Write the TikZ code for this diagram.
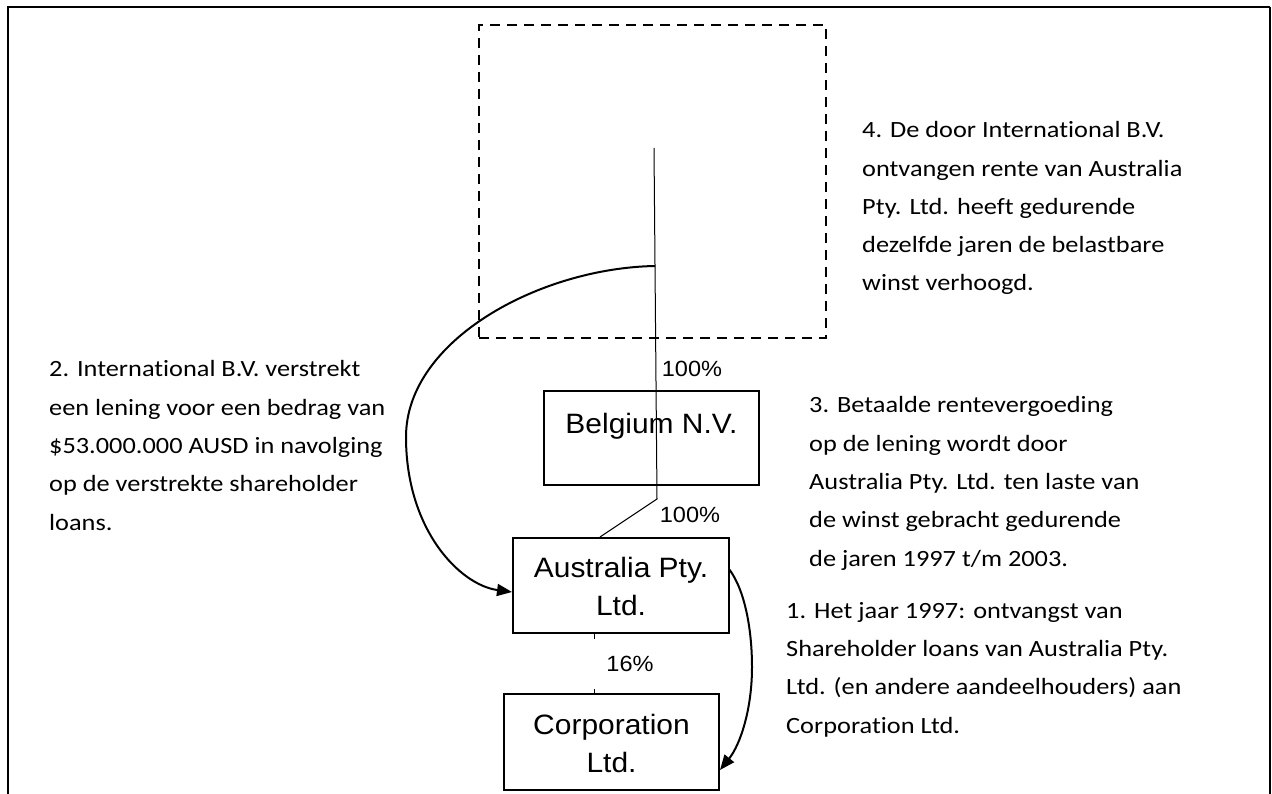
\documentclass[tikz,border=0pt]{standalone}
\usepackage{fontspec}
\setmainfont{Carlito}
\newfontfamily\notefont[FakeStretch=1.13,Ligatures=NoCommon]{Carlito}
\newfontfamily\arialfont[FakeStretch=1.07]{Liberation Sans}
\usetikzlibrary{arrows.meta}
\tikzset{
  entity/.style={draw, line width=2pt, inner sep=0pt},
  boxtext/.style={font=\arialfont\fontsize{28}{38}\selectfont, align=center, inner sep=0pt, anchor=base},
  pct/.style={font=\arialfont\fontsize{22}{26}\selectfont, inner sep=0pt},
  note/.style={font=\notefont\fontsize{23.3}{38.3}\selectfont, align=left, inner sep=0pt, anchor=base west},
  link/.style={line width=1pt},
  flow/.style={line width=2pt, -{Triangle[length=15pt,width=12pt]}},
  hidden/.style={draw, dashed, line width=2pt, dash pattern=on 10pt off 7pt},
}
\begin{document}
\begin{tikzpicture}[x=1pt,y=-1pt]
\useasboundingbox (0,0) rectangle (1272,794);
% outer frame (open at bottom)
\draw[line width=2.4pt] (8,800) -- (8,7) -- (1270,7);
\draw[line width=1.6pt] (1270,7) -- (1270,800);
% dashed (empty) box
\node[hidden, minimum width=347pt, minimum height=313pt, inner sep=0pt] (intl) at (652.5,181.5) {};
% entity boxes
\node[entity, minimum width=215pt, minimum height=94pt] (bel) at (651.5,438) {};
\node[entity, minimum width=216pt, minimum height=95pt] (aus) at (621,585.5) {};
\node[entity, minimum width=215pt, minimum height=96pt] (corp) at (611.5,742) {};
% ownership connectors
\coordinate (top) at (654,148);
\coordinate (bend) at (657,499);
\coordinate (ausin) at (600,0);
\coordinate (tick) at (594,0);
\draw[link] (top) -- (bend) -- (aus.north -| ausin);
\draw[link] (aus.south -| tick) -- (corp.north -| tick);
% texts in boxes (base anchor = last line)
\node[boxtext] (beltxt) at (651.5,433) {Belgium N.V.};
\node[boxtext] (austxt) at (621,615) {Australia Pty.\\Ltd.};
% percentages
\node[pct] (p1) at (692,369) {100\%};
\node[pct] (p2) at (690,515) {100\%};
\node[pct, fill=white, minimum width=76pt, minimum height=50pt] (p3) at (630,664) {16\%};
\node[boxtext] (corptxt) at (611.5,772) {Corporation\\Ltd.};
% flows
\coordinate (loan) at (655,266);
\draw[flow] (loan) .. controls (540,268) and (406,340) .. (406,437)
  .. controls (406,530) and (460,585) .. (aus.west |- 0,592);
\coordinate (sh) at (729,569);
\draw[flow] (sh) .. controls (745,590) and (752,630) .. (752,667)
  .. controls (752,710) and (740,745) .. (corp.east |- 0,770);
% notes (base anchor = last line)
\node[note] (n4) at (862,291) {4. De door International B.V.\\ontvangen rente van Australia\\Pty. Ltd. heeft gedurende\\dezelfde jaren de belastbare\\winst verhoogd.};
\node[note] (n2) at (49,530) {2. International B.V. verstrekt\\een lening voor een bedrag van\\\$53.000.000 AUSD in navolging\\op de verstrekte shareholder\\loans.};
\node[note] (n3) at (809,566) {3. Betaalde rentevergoeding\\op de lening wordt door\\Australia Pty. Ltd. ten laste van\\de winst gebracht gedurende\\de jaren 1997 t/m 2003.};
\node[note] (n1) at (786,733) {1. Het jaar 1997: ontvangst van\\Shareholder loans van Australia Pty.\\Ltd. (en andere aandeelhouders) aan\\Corporation Ltd.};
\end{tikzpicture}
\end{document}
